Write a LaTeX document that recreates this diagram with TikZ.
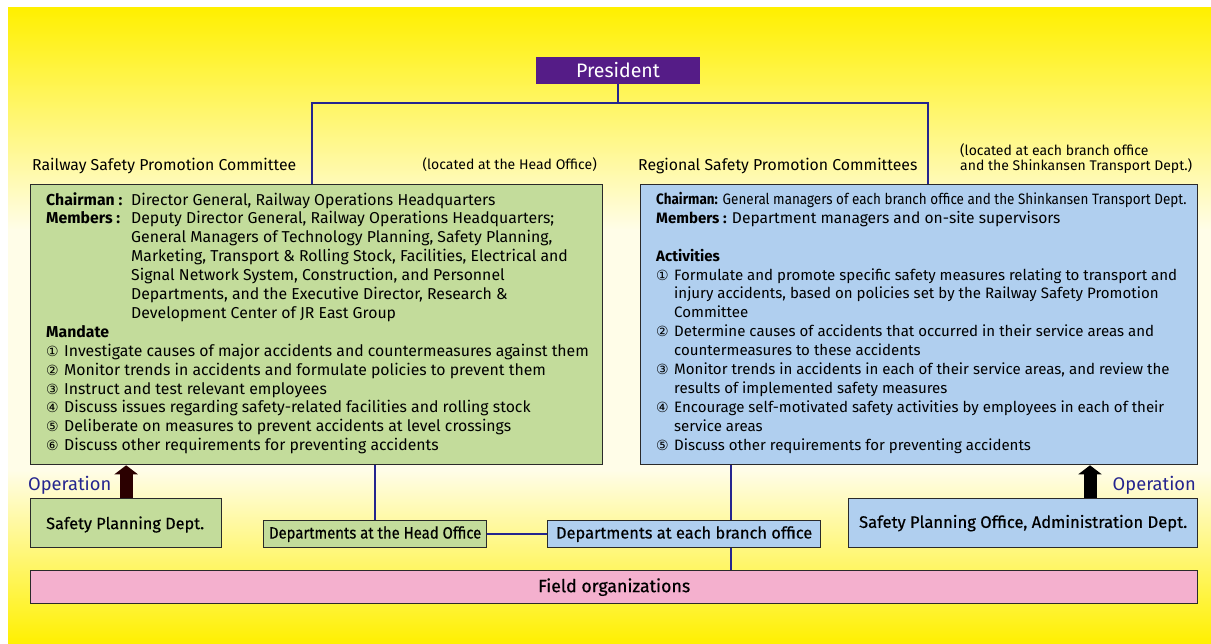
\documentclass[tikz,border=0pt]{standalone}
\usepackage{fontspec}
\usepackage{graphicx}
\setmainfont{Fira Sans}
\newfontfamily\medf[FakeBold=0.5]{Fira Sans}
\newfontfamily\symf{DejaVu Sans}
\usetikzlibrary{arrows.meta}
\definecolor{yel}{HTML}{FFF000}
\definecolor{cream}{HTML}{FFFDE8}
\definecolor{gfill}{HTML}{C3DC9B}
\definecolor{bfill}{HTML}{B0CFEF}
\definecolor{pfill}{HTML}{F4B0CE}
\definecolor{purp}{HTML}{551C87}
\definecolor{navy}{HTML}{25258F}
\definecolor{bord}{HTML}{2A2A2A}
\definecolor{arrL}{HTML}{2B0000}
\newcommand\cn[1]{\makebox[18pt][l]{\symf\fontsize{14}{14}\selectfont #1}}
\newcommand\gbodyf{\fontsize{15.8}{18.9}\selectfont}
\newcommand\bbodyf{\fontsize{15.05}{18.9}\selectfont}
\begin{document}
\begin{tikzpicture}[x=1pt,y=-1pt,
  box/.style={draw=bord, line width=1.3pt, inner sep=0pt},
  conn/.style={draw=navy, line width=2.3pt},
  oparrow/.style={line width=13pt, -{Triangle[width=23pt,length=9pt]}},
  txt/.style={inner sep=0pt, align=left},
  optxt/.style={inner sep=0pt, text=navy, font=\fontsize{18.3}{18.3}\selectfont}]
\useasboundingbox (0,0) rectangle (1211,644);
\fill[white] (0,0) rectangle (1211,644);
\shade[top color=yel, bottom color=cream] (8,8) rectangle (1211,230);
\fill[cream] (8,229.5) rectangle (1211,470.5);
\shade[top color=cream, bottom color=yel] (8,470) rectangle (1211,644);

% President
\node[inner sep=0pt, fill=purp, minimum width=164pt, minimum height=27pt,
  text=white, font=\fontsize{19.5}{19.5}\selectfont] (pres) at (618,70.5) {President};

% committees
\node[box, fill=gfill, minimum width=572pt, minimum height=280pt, anchor=north west] (rspc) at (30,184) {};
\node[box, fill=bfill, minimum width=557pt, minimum height=280pt, anchor=north west] (rrc) at (640,184) {};

\node[inner sep=0pt, anchor=base west, font=\fontsize{15.8}{16}\selectfont] (t1) at (32,171) {Railway Safety Promotion Committee};
\node[inner sep=0pt, anchor=base east, font=\fontsize{14}{14}\selectfont] (t2) at (597,170) {(located at the Head Office)};
\node[inner sep=0pt, anchor=base west, font=\fontsize{15.8}{16}\selectfont] (t3) at (638,171) {Regional Safety Promotion Committees};
\node[inner sep=0pt, anchor=north west, align=left, font=\fontsize{14}{15}\selectfont] (t4) at (960,143) {(located at each branch office\\and the Shinkansen Transport Dept.)};

% green text
\node[txt, font=\gbodyf, anchor=north west] (gtext) at (46,192) {%
\makebox[85pt][l]{\textbf{Chairman :}}Director General, Railway Operations Headquarters\\
\makebox[85pt][l]{\textbf{Members :}}Deputy Director General, Railway Operations Headquarters;\\
\hspace*{85pt}General Managers of Technology Planning, Safety Planning,\\
\hspace*{85pt}Marketing, Transport \& Rolling Stock, Facilities, Electrical and\\
\hspace*{85pt}Signal Network System, Construction, and Personnel\\
\hspace*{85pt}Departments, and the Executive Director, Research \&\\
\hspace*{85pt}Development Center of JR East Group\\
\textbf{Mandate}\\
\cn{①}Investigate causes of major accidents and countermeasures against them\\
\cn{②}Monitor trends in accidents and formulate policies to prevent them\\
\cn{③}Instruct and test relevant employees\\
\cn{④}Discuss issues regarding safety-related facilities and rolling stock\\
\cn{⑤}Deliberate on measures to prevent accidents at level crossings\\
\cn{⑥}Discuss other requirements for preventing accidents};

% blue text
\node[txt, font=\bbodyf, anchor=north west] (btext) at (656,192) {%
\scalebox{0.895}[1]{\textbf{Chairman:} General managers of each branch office and the Shinkansen Transport Dept.}\\
\textbf{Members :} {\fontsize{15.6}{18.9}\selectfont Department managers and on-site supervisors}\\
\mbox{}\\
\textbf{Activities}\\
\cn{①}Formulate and promote specific safety measures relating to transport and\\
\hspace*{18pt}injury accidents, based on policies set by the Railway Safety Promotion\\
\hspace*{18pt}Committee\\
\cn{②}Determine causes of accidents that occurred in their service areas and\\
\hspace*{18pt}countermeasures to these accidents\\
\cn{③}Monitor trends in accidents in each of their service areas, and review the\\
\hspace*{18pt}results of implemented safety measures\\
\cn{④}Encourage self-motivated safety activities by employees in each of their\\
\hspace*{18pt}service areas\\
\cn{⑤}Discuss other requirements for preventing accidents};

% lower boxes
\node[box, fill=gfill, minimum width=191pt, minimum height=49pt, anchor=north west] (spd) at (30,498) {};
\node[inner sep=0pt, anchor=west, font=\medf\fontsize{16.3}{16.3}\selectfont] (spdt) at (46,524.5) {Safety Planning Dept.};
\node[box, fill=gfill, minimum width=223pt, minimum height=27pt, anchor=north west,
  font=\medf\fontsize{16.4}{16.4}\selectfont] (dho) at (263,520) {\scalebox{0.905}[1]{Departments at the Head Office}};
\node[box, fill=bfill, minimum width=273pt, minimum height=27pt, anchor=north west,
  font=\medf\fontsize{16.4}{16.4}\selectfont] (dbo) at (547,520) {Departments at each branch office};
\node[box, fill=bfill, minimum width=349pt, minimum height=49pt, anchor=north west,
  font=\medf\fontsize{16.6}{16.6}\selectfont] (spo) at (848,498) {Safety Planning Office, Administration Dept.};
\node[box, fill=pfill, minimum width=1167pt, minimum height=33pt, anchor=north west,
  font=\medf\fontsize{17.8}{17.8}\selectfont] (field) at (30,570) {Field organizations};

\node[optxt, anchor=base west] (opl) at (28,490) {Operation};
\node[optxt, anchor=base east] (opr) at (1196,490) {Operation};

% connectors
\coordinate (jl) at (312,103);
\coordinate (jr) at (928,103);
\coordinate (bx) at (731,0);
\coordinate (ax) at (1090,0);
\draw[conn] (pres.south) -- (pres.south |- jl);
\draw[conn] (rspc.north -| jl) |- (jr) -- (rrc.north -| jr);
\draw[conn] (rspc.south -| dho.north) -- (dho.north);
\draw[conn] (dho.east) -- (dbo.west);
\draw[conn] (rrc.south -| bx) -- (dbo.north -| bx);
\draw[conn] (dbo.south -| bx) -- (field.north -| bx);
\draw[oparrow, draw=arrL, fill=arrL] (spd.north) -- (spd.north |- rspc.south);
\draw[oparrow, draw=black, fill=black] (spo.north -| ax) -- (rrc.south -| ax);
\end{tikzpicture}
\end{document}
